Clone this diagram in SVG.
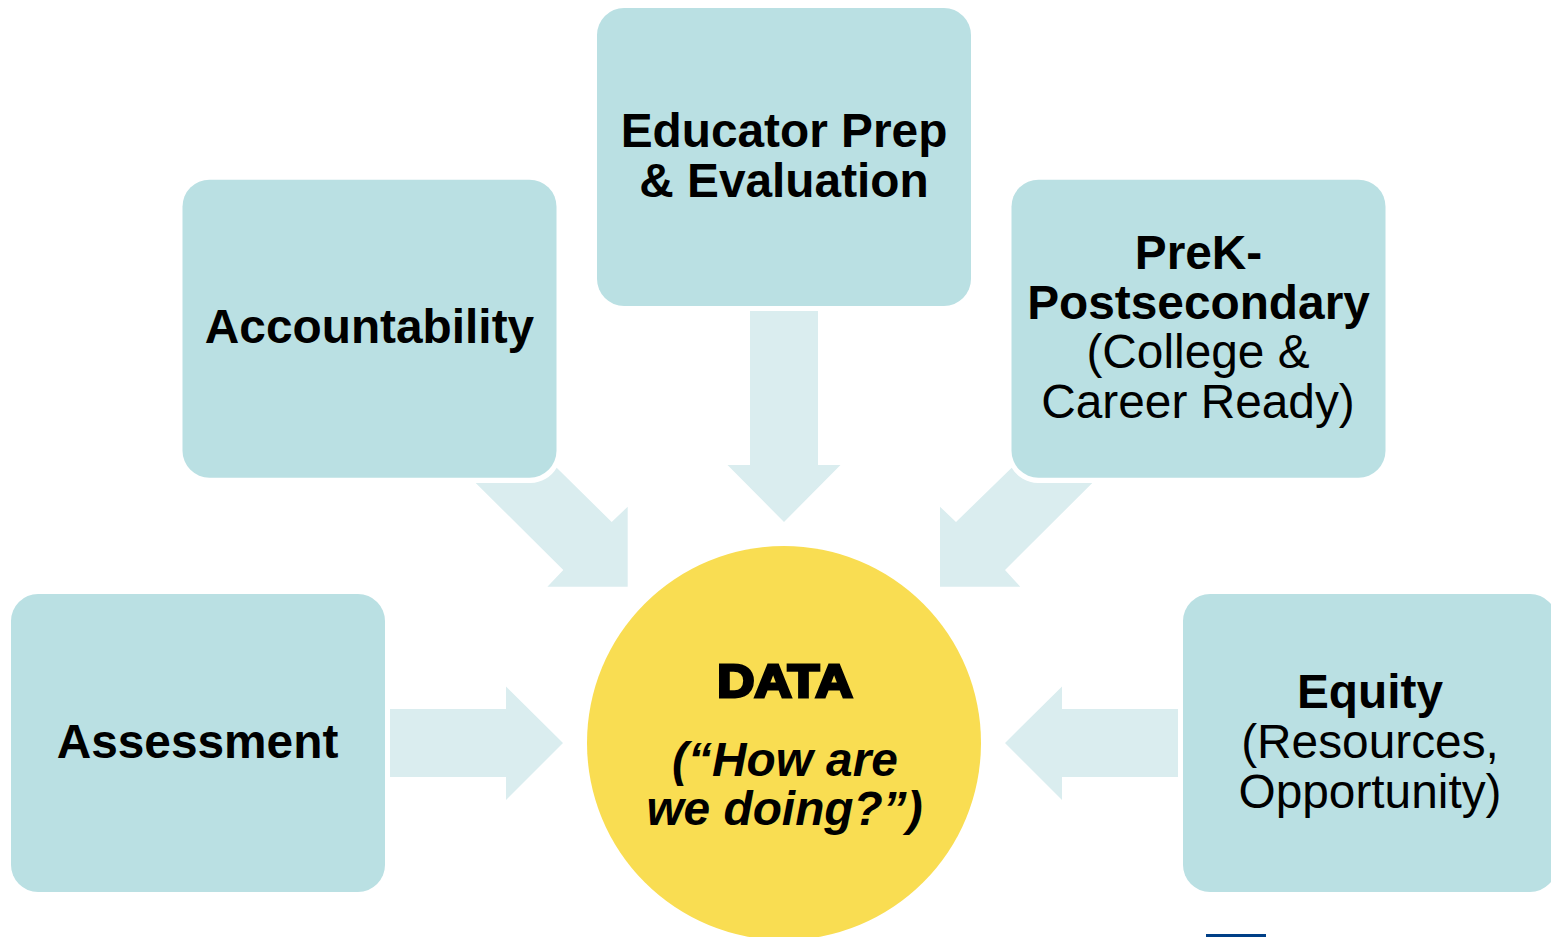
<svg xmlns="http://www.w3.org/2000/svg" width="1551" height="937" viewBox="0 0 1551 937">
<style>
.box{fill:#bae0e3}
.arrow{fill:#daedef}
text{font-family:"Liberation Sans",Arial,sans-serif;font-size:47.8px;fill:#000;text-anchor:middle}
.b{font-weight:bold}
.data{font-weight:bold;font-size:46px;stroke:#000;stroke-width:3px}
.q{font-weight:bold;font-style:italic}
</style>
<rect width="1551" height="937" fill="#fff"/>
<g id="connectors">
<path class="arrow" d="M475.7 483H530.7A31 31 0 0 0 556.7 467.7L611.7 522L627.7 506.7V586.7H547.4L563.3 570Z"/>
<path class="arrow" d="M750 311H818V465H840.5L784 522L727.5 465H750Z"/>
<path class="arrow" d="M1092.3 483H1037.7A31 31 0 0 1 1011.7 467.7L956 522L940 506.7V586.7H1020.3L1005 570Z"/>
<path class="arrow" d="M390 709H506V686.5L563 743L506 800V777H390Z"/>
<path class="arrow" d="M1178 709H1062V686.5L1005 743L1062 800V777H1178Z"/>
</g>
<g id="educator"><rect class="box" x="597" y="8" width="374" height="298" rx="27"/><text class="b" x="784" y="147">Educator Prep</text><text class="b" x="784" y="197">&amp; Evaluation</text></g>
<g id="accountability"><rect class="box" x="182.5" y="179.7" width="374" height="298" rx="27"/><text class="b" x="369.5" y="343">Accountability</text></g>
<g id="prek"><rect class="box" x="1011.5" y="179.7" width="374" height="298" rx="27"/><text class="b" x="1198.5" y="269">PreK-</text><text class="b" x="1198.5" y="319">Postsecondary</text><text x="1198" y="368">(College &amp;</text><text x="1198" y="418">Career Ready)</text></g>
<g id="assessment"><rect class="box" x="11" y="594" width="374" height="298" rx="27"/><text class="b" x="197.5" y="758">Assessment</text></g>
<g id="equity"><rect class="box" x="1183" y="594" width="374" height="298" rx="27"/><text class="b" x="1370" y="708">Equity</text><text x="1370" y="758">(Resources,</text><text x="1370" y="807.5">Opportunity)</text></g>
<g id="data"><circle cx="784" cy="743" r="197" fill="#f9dd52"/><text class="data" x="785" y="696.5" textLength="135.5" lengthAdjust="spacingAndGlyphs">DATA</text><text class="q" x="785" y="776">(“How are</text><text class="q" x="784.5" y="825">we doing?”)</text></g>
<rect x="1206" y="934" width="60" height="3" fill="#003f87"/>
</svg>
